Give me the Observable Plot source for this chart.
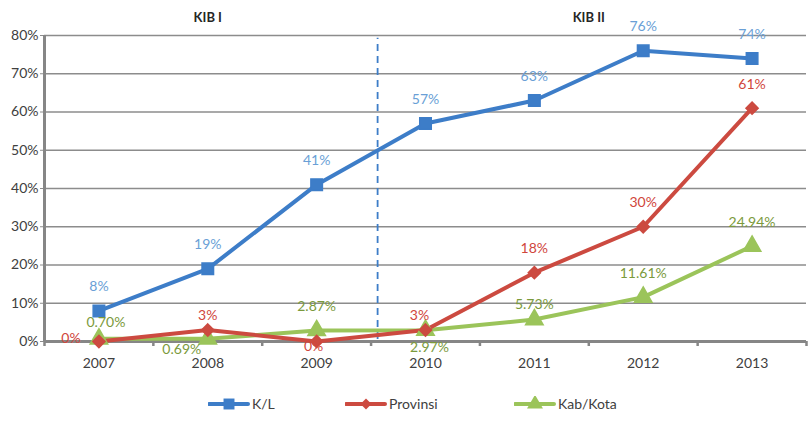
<!DOCTYPE html>
<html>
<head>
<meta charset="utf-8">
<script src="https://cdn.jsdelivr.net/npm/d3@7"></script>
<script src="https://cdn.jsdelivr.net/npm/@observablehq/plot@0.6"></script>
<style>
  body { margin: 0; background: #fff; font-family: Lato, "Open Sans", sans-serif; }
  #legend { display: flex; height: 37px; align-items: center; font-size: 14px; color: #404040; position: relative; }
  .item { position: absolute; display: flex; align-items: center; }
</style>
</head>
<body>
<div id="chart"></div>
<div id="legend"></div>
<script>
const years = [2007, 2008, 2009, 2010, 2011, 2012, 2013];
const kl = [8, 19, 41, 57, 63, 76, 74];
const prov = [0, 3, 0, 3, 18, 30, 61];
const kab = [0.70, 0.69, 2.87, 2.97, 5.73, 11.61, 24.94];
const klLabels = ["8%", "19%", "41%", "57%", "63%", "76%", "74%"];
const provLabels = ["0%", "3%", "0%", "3%", "18%", "30%", "61%"];
const kabLabels = ["0.70%", "0.69%", "2.87%", "2.97%", "5.73%", "11.61%", "24.94%"];
const klPlace = ["above", "above", "above", "above", "above", "above", "above"];
const provPlace = ["left", "near", "on", "nearLeft", "above", "above", "above"];
const kabPlace = ["nearRight", "belowLeft", "above", "below", "near", "above", "above"];
const periods = [{name: "KIB I", x: 2008}, {name: "KIB II", x: 2011.5}];
const yTicks = [0, 10, 20, 30, 40, 50, 60, 70, 80];
const divider = 2009.56;

const series = [
  {name: "K/L", vals: kl, labels: klLabels, place: klPlace, line: "#3d7dc8", text: "#6a9fd6", symbol: "square", r: 6.5},
  {name: "Provinsi", vals: prov, labels: provLabels, place: provPlace, line: "#cc4a40", text: "#d0463c", symbol: "diamond2", r: 5.5},
  {name: "Kab/Kota", vals: kab, labels: kabLabels, place: kabPlace, line: "#9bc45a", text: "#7b9a3c", symbol: "triangle", r: 6.5}
];
const offsets = {
  above: [0, -24], near: [0, -15], nearLeft: [-6, -15], nearRight: [7, -16],
  left: [-28, -3], on: [-3, 5], below: [4, 17], belowLeft: [-26, 11]
};

const marks = [];
marks.push(Plot.gridY(yTicks, {stroke: "#8c8c8c", strokeOpacity: 1, strokeWidth: 1.3}));
marks.push(Plot.axisY(yTicks, {label: null, tickFormat: d => d + "%", tickSize: 4, tickPadding: 2, stroke: "#8c8c8c", fontSize: 14, fill: "#404040"}));
marks.push(Plot.axisX(d3.range(2006.5, 2014, 1), {label: null, tickSize: 5, tickFormat: () => "", stroke: "#868686", strokeWidth: 2.5}));
marks.push(Plot.axisX(years, {label: null, tickSize: 0, tickPadding: 17, tickFormat: d => String(d), fontSize: 14, fill: "#404040"}));
marks.push(Plot.ruleX([2006.5], {y1: 0, y2: 80, stroke: "#868686", strokeWidth: 3}));
marks.push(Plot.ruleY([0], {stroke: "#868686", strokeWidth: 3}));
marks.push(Plot.ruleX([divider], {y1: 0.5, y2: 79.3, stroke: "#3d7dc8", strokeWidth: 1.8, strokeDasharray: "7,5"}));
marks.push(Plot.text(periods, {x: "x", y: () => 80, text: "name", dy: -18, fontWeight: "bold", fontSize: 13, fill: "#262626"}));

for (const s of series.slice().reverse()) {
  const data = years.map((y, i) => ({year: y, v: s.vals[i]}));
  marks.push(Plot.line(data, {x: "year", y: "v", stroke: s.line, strokeWidth: 4}));
}
for (const s of series.slice().reverse()) {
  const data = years.map((y, i) => ({year: y, v: s.vals[i]}));
  marks.push(Plot.dot(data, {x: "year", y: "v", symbol: () => s.symbol, fill: s.line, stroke: s.line, r: s.r}));
}
for (const s of series) {
  const data = years.map((y, i) => ({year: y, v: s.vals[i], label: s.labels[i], place: s.place[i]}));
  for (const [k, [dx, dy]] of Object.entries(offsets)) {
    const sub = data.filter(d => d.place === k);
    if (sub.length) marks.push(Plot.text(sub, {x: "year", y: "v", text: "label", dx, dy, fill: s.text, fontSize: 14}));
  }
}

const chart = Plot.plot({
  width: 812, height: 385,
  marginLeft: 44, marginRight: 6, marginTop: 35, marginBottom: 44,
  style: {fontFamily: "Lato, 'Open Sans', sans-serif", background: "#fff", overflow: "visible"},
  x: {domain: [2006.5, 2013.5], axis: null},
  y: {domain: [0, 80], axis: null},
  marks
});
document.getElementById("chart").appendChild(chart);

// legend
const legend = document.getElementById("legend");
const legendX = [208, 345, 514];
series.forEach((s, i) => {
  const item = document.createElement("div");
  item.className = "item";
  item.style.left = legendX[i] + "px";
  const sw = d3.create("svg").attr("width", 42).attr("height", 16);
  sw.append("line").attr("x1", 1).attr("x2", 40).attr("y1", 8).attr("y2", 8)
    .attr("stroke", s.line).attr("stroke-width", 4).attr("stroke-linecap", "round");
  const symMap = {square: d3.symbolSquare, diamond2: d3.symbolSquare, triangle: d3.symbolTriangle};
  const size = s.symbol === "square" ? 120 : s.symbol === "triangle" ? 110 : 60;
  sw.append("path").attr("d", d3.symbol(symMap[s.symbol], size)())
    .attr("transform", `translate(21,8)` + (s.symbol === "diamond2" ? " rotate(45)" : ""))
    .attr("fill", s.line);
  item.appendChild(sw.node());
  const lab = document.createElement("span");
  lab.textContent = s.name;
  lab.style.marginLeft = "2px";
  item.appendChild(lab);
  legend.appendChild(item);
});
</script>
</body>
</html>
